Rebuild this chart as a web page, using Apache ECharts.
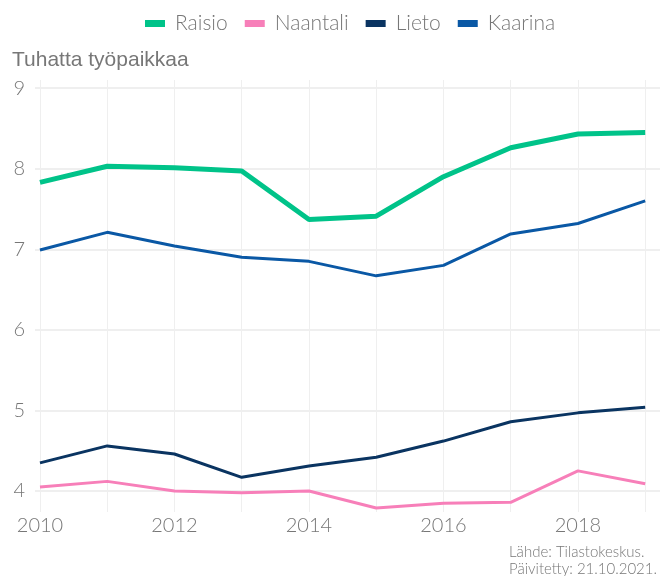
<!DOCTYPE html>
<html>
<head>
<meta charset="utf-8">
<script src="https://cdn.jsdelivr.net/npm/echarts@6/dist/echarts.min.js"></script>
<style>
    html, body { margin: 0; padding: 0; background: #fff; }
    #chart { width: 667px; height: 576px; }
</style>
</head>
<body>
<div id="chart"></div>
<script>
// vuodet ja työpaikat (tuhatta)
var years = [2010, 2011, 2012, 2013, 2014, 2015, 2016, 2017, 2018, 2019];
var raisio = [7.83, 8.03, 8.01, 7.97, 7.37, 7.41, 7.90, 8.26, 8.43, 8.45];
var naantali = [4.05, 4.12, 4.00, 3.98, 4.00, 3.79, 3.85, 3.86, 4.25, 4.09];
var lieto = [4.35, 4.56, 4.46, 4.17, 4.31, 4.42, 4.62, 4.86, 4.97, 5.04];
var kaarina = [6.99, 7.21, 7.04, 6.90, 6.85, 6.67, 6.80, 7.19, 7.32, 7.60];
var xLabels = [2010, 2012, 2014, 2016, 2018];
var yLabels = [4, 5, 6, 7, 8, 9];

var font = 'Lato';
var grey = '#777777';

function pairs(values) {
    var out = [];
    for (var i = 0; i < years.length; i++) {
        out.push([years[i], values[i]]);
    }
    return out;
}

function lineSeries(name, values, color, width) {
    return {
        name: name,
        type: 'line',
        data: pairs(values),
        symbol: 'none',
        lineStyle: { color: color, width: width },
        itemStyle: { color: color }
    };
}

var chart = echarts.init(document.getElementById('chart'));
chart.setOption({
    animation: false,
    backgroundColor: '#ffffff',
    title: {
        text: 'Tuhatta työpaikkaa',
        left: 7,
        top: 45,
        textStyle: { fontFamily: 'Liberation Sans', fontWeight: 'normal', fontSize: 21, color: grey }
    },
    // lähde oikeaan alakulmaan
    graphic: [{
        type: 'text',
        right: 10,
        top: 544,
        style: {
            text: 'Lähde: Tilastokeskus.\nPäivitetty: 21.10.2021.',
            align: 'right',
            fontFamily: font, fontWeight: 300, fontSize: 15, lineHeight: 17, fill: grey
        }
    }],
    legend: {
        top: 8,
        left: 140,
        itemWidth: 20,
        itemHeight: 7,
        itemGap: 17,
        icon: 'rect',
        textStyle: { fontFamily: font, fontWeight: 300, fontSize: 21, color: grey, padding: [0, 0, 0, 5] },
        data: ['Raisio', 'Naantali', 'Lieto', 'Kaarina']
    },
    grid: { left: 35, right: 7, top: 80, bottom: 64, containLabel: false },
    xAxis: {
        type: 'value',
        min: 2009.926,
        max: 2019.22,
        axisLine: { show: false },
        axisTick: { show: false, customValues: years },
        axisLabel: {
            customValues: xLabels,
            margin: 4,
            formatter: function (v) { return String(v); },
            fontFamily: font, fontWeight: 300, fontSize: 20, color: grey
        },
        splitLine: { show: true, lineStyle: { color: '#efefef', width: 1 } }
    },
    yAxis: {
        type: 'value',
        min: 3.74,
        max: 9.1,
        axisLine: { show: false },
        axisTick: { show: false, customValues: yLabels },
        axisLabel: {
            customValues: yLabels,
            margin: 10,
            fontFamily: font, fontWeight: 300, fontSize: 20, color: grey
        },
        splitLine: { show: true, lineStyle: { color: '#efefef', width: 2 } }
    },
    series: [
        lineSeries('Raisio', raisio, '#00c389', 5),
        lineSeries('Naantali', naantali, '#f77fb9', 3),
        lineSeries('Lieto', lieto, '#0a3461', 3),
        lineSeries('Kaarina', kaarina, '#0a58a5', 3)
    ]
});
</script>
</body>
</html>
